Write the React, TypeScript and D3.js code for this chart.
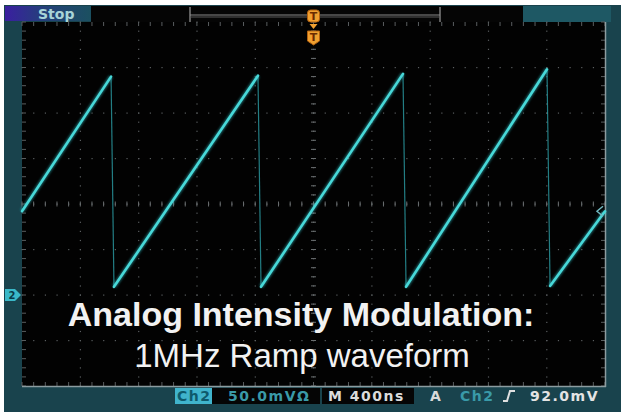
import React from "react";
import * as d3 from "d3";

// Trace samples: time (ns) across 10 divisions of 400 ns, level in mV (50 mV/div)
const traceTimes = [0, 611, 631, 1619, 1640, 2614, 2635, 3602, 3623, 4000];
const traceMv = [92, 240, 9, 241, 9, 243, 9, 248, 10, 92];

const titleLine1 = "Analog Intensity Modulation:";
const titleLine2 = "1MHz Ramp waveform";
const statusLabels = ["Ch2", "50.0mVΩ", "M 400ns", "A", "Ch2", "92.0mV"];
const runState = "Stop";
const triggerLevelMv = 92;

const W = 621;
const H = 412;
const L = 22, R = 605, T = 22, B = 386;

export default function App() {
  const x = d3.scaleLinear().domain([0, 4000]).range([L, R]);
  const y = d3.scaleLinear().domain([-100, 300]).range([B, T]);
  const divX = 400, divY = 50;
  const majorX = d3.range(0, 4001, divX);
  const majorY = d3.range(-100, 301, divY);
  const minorX = d3.range(0, 4001, divX / 5);
  const minorY = d3.range(-100, 301, divY / 5);
  const cx = 2000, cy = 100;

  const pts = traceTimes.map((t, i) => [t, traceMv[i]] as [number, number]);
  const ramps: [number, number][][] = [];
  const drops: [number, number][][] = [];
  for (let i = 0; i < pts.length - 1; i++) {
    if (i % 2 === 0) ramps.push([pts[i], pts[i + 1]]);
    else drops.push([pts[i], pts[i + 1]]);
  }
  const line = d3.line<[number, number]>().x((d) => x(d[0])).y((d) => y(d[1]));

  const dotCol = "#5a5e60";
  const grid: React.ReactNode[] = [];
  majorX.forEach((t, i) => {
    if (t === 0 || t === 4000) return;
    minorY.forEach((v, j) => {
      grid.push(<rect key={`vx${i}-${j}`} x={x(t) - 0.5} y={y(v) - 0.5} width={1.2} height={1.2} fill={dotCol} />);
    });
  });
  majorY.forEach((v, i) => {
    if (v === -100 || v === 300) return;
    minorX.forEach((t, j) => {
      grid.push(<rect key={`hy${i}-${j}`} x={x(t) - 0.5} y={y(v) - 0.5} width={1.2} height={1.2} fill={dotCol} />);
    });
  });
  minorX.forEach((t, j) => {
    grid.push(<line key={`cxt${j}`} x1={x(t)} x2={x(t)} y1={y(cy) - 2.5} y2={y(cy) + 2.5} stroke="#6a6e70" strokeWidth={1} />);
  });
  minorY.forEach((v, j) => {
    grid.push(<line key={`cyt${j}`} x1={x(cx) - 2.5} x2={x(cx) + 2.5} y1={y(v)} y2={y(v)} stroke="#6a6e70" strokeWidth={1} />);
  });
  minorX.forEach((t, j) => {
    grid.push(<line key={`tt${j}`} x1={x(t)} x2={x(t)} y1={T} y2={T + 4} stroke="#5a5e60" strokeWidth={1} />);
    grid.push(<line key={`bt${j}`} x1={x(t)} x2={x(t)} y1={B - 4} y2={B} stroke="#5a5e60" strokeWidth={1} />);
  });
  minorY.forEach((v, j) => {
    grid.push(<line key={`lt${j}`} x1={L} x2={L + 4} y1={y(v)} y2={y(v)} stroke="#5a5e60" strokeWidth={1} />);
    grid.push(<line key={`rt${j}`} x1={R - 4} x2={R} y1={y(v)} y2={y(v)} stroke="#5a5e60" strokeWidth={1} />);
  });

  const gy = y(0);
  const ty = y(triggerLevelMv);
  const tx = x(cx);
  const frame = "#19434d";
  const teal = "#3a9aa8";

  return (
    <div style={{ position: "fixed", left: 0, top: 0, width: W, height: H, background: "#fff" }}>
      <svg width={W} height={H} style={{ display: "block" }}>
        <defs>
          <linearGradient id="stopg" x1="0" x2="1" y1="0" y2="0">
            <stop offset="0" stopColor="#3a1fa0" />
            <stop offset="0.45" stopColor="#24407a" />
            <stop offset="1" stopColor="#1b5060" />
          </linearGradient>
          <filter id="glow" x="-5%" y="-5%" width="110%" height="110%">
            <feGaussianBlur stdDeviation="0.8" />
          </filter>
        </defs>
        <rect x={0} y={0} width={W} height={H} fill="#ffffff" />
        <rect x={4} y={5} width={W - 4} height={H - 5} fill={frame} />
        <rect x={5} y={6} width={86} height={15} fill="url(#stopg)" />
        <text x={38} y={19} fontFamily="DejaVu Sans" fontWeight="bold" fontSize={14} fill="#a8d4d8">{runState}</text>
        <rect x={91} y={6} width={432} height={16} fill="#050505" />
        <rect x={523} y={6} width={88} height={16} fill="#1e5864" />
        <line x1={190} x2={190} y1={7} y2={23} stroke="#9a9a9a" strokeWidth={1.2} />
        <line x1={440} x2={440} y1={7} y2={23} stroke="#9a9a9a" strokeWidth={1.2} />
        <line x1={190} x2={440} y1={15} y2={15} stroke="#8a8a8a" strokeWidth={1} />
        <line x1={190} x2={440} y1={17} y2={17} stroke="#5a5a5a" strokeWidth={1} />
        <rect x={L} y={T} width={R - L} height={B - T} fill="#020202" />
        {grid}
        <line x1={R + 0.5} x2={R + 0.5} y1={T} y2={B + 1} stroke="#8c9ca0" strokeWidth={1.5} />
        <line x1={L} x2={R + 1} y1={B + 0.5} y2={B + 0.5} stroke="#8c9ca0" strokeWidth={1.5} />
        <g>
          {drops.map((d, i) => (
            <path key={`d${i}`} d={line(d) || ""} stroke="#2fa8b0" strokeOpacity={0.75} strokeWidth={1.2} fill="none" />
          ))}
          {ramps.map((d, i) => (
            <path key={`rg${i}`} d={line(d) || ""} stroke="#30c0c8" strokeOpacity={0.5} strokeWidth={4.5} fill="none" filter="url(#glow)" />
          ))}
          {ramps.map((d, i) => (
            <path key={`r${i}`} d={line(d) || ""} stroke="#48d8d8" strokeWidth={2.6} fill="none" strokeLinecap="round" />
          ))}
        </g>
        <rect x={tx - 6} y={10} width={12} height={12} rx={3} fill="#f0a030" stroke="#b06010" strokeWidth={1} />
        <text x={tx} y={20} textAnchor="middle" fontFamily="DejaVu Sans" fontWeight="bold" fontSize={11} fill="#6a2a00">T</text>
        <path d={`M${tx - 4},24 L${tx + 4},24 L${tx},29 Z`} fill="#f0a030" />
        <path d={`M${tx - 6},31 L${tx + 6},31 L${tx + 6},41 L${tx},45 L${tx - 6},41 Z`} fill="#f0a030" stroke="#b06010" strokeWidth={1} />
        <text x={tx} y={41} textAnchor="middle" fontFamily="DejaVu Sans" fontWeight="bold" fontSize={11} fill="#6a2a00">T</text>
        <path d={`M5,${gy - 6} L15,${gy - 6} L21,${gy} L15,${gy + 6} L5,${gy + 6} Z`} fill="#3ab8c8" />
        <text x={12} y={gy + 4} textAnchor="middle" fontFamily="DejaVu Sans" fontWeight="bold" fontSize={10} fill="#0a3a48">2</text>
        <path d={`M${R - 2},${ty - 5} L${R - 8},${ty} L${R - 2},${ty + 5}`} fill="none" stroke="#70b8c0" strokeWidth={1.5} />
        <text x={301} y={326} textAnchor="middle" fontFamily="Liberation Sans, Arial, sans-serif" fontWeight="bold" fontSize={34} fill="#f2f2f2">{titleLine1}</text>
        <text x={302} y={367} textAnchor="middle" fontFamily="Liberation Sans, Arial, sans-serif" fontSize={33} fill="#f2f2f2">{titleLine2}</text>
        <rect x={212} y={388} width={108} height={16} fill="#050505" />
        <rect x={322} y={388} width={92} height={16} fill="#050505" />
        <rect x={175} y={388} width={37} height={16} fill="#40b4cc" />
        <g fontFamily="DejaVu Sans" fontWeight="bold" fontSize={14} letterSpacing={1.5}>
          <text x={177} y={401} fill="#0e5a6c">{statusLabels[0]}</text>
          <text x={228} y={401} fill={teal}>{statusLabels[1]}</text>
          <text x={328} y={401} fill="#dcdcdc">{statusLabels[2]}</text>
          <text x={430} y={401} fill="#d8d8d8">{statusLabels[3]}</text>
          <text x={460} y={401} fill={teal}>{statusLabels[4]}</text>
          <text x={530} y={401} fill="#e4e4e4">{statusLabels[5]}</text>
        </g>
        <path d="M503,401 L507,401 L510,391 L515,391" fill="none" stroke="#e0e0e0" strokeWidth={2} />
      </svg>
    </div>
  );
}
